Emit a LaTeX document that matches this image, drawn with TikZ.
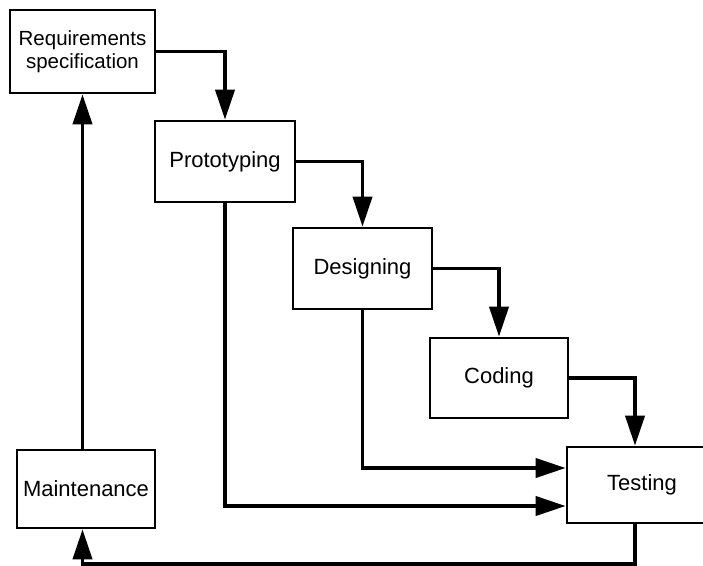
\documentclass[tikz,border=0pt]{standalone}
\usepackage{fontspec}
\setmainfont{Liberation Sans}
\usetikzlibrary{arrows.meta,calc}
\begin{document}
\begin{tikzpicture}[x=1pt,y=-1pt,
  box/.style={draw=black,line width=2.6pt,fill=white,inner sep=0pt,align=center,
    font=\fontsize{22}{23}\selectfont},
  conn/.style={draw=black,line width=3.8pt,-{Triangle[length=30pt,width=19pt]}}]
\useasboundingbox (0,0) rectangle (703,565);
\fill[white] (0,0) rectangle (703,565);
\node[box,minimum width=145pt,minimum height=83pt,font=\fontsize{20.5}{23}\selectfont] (req) at (82.5,51.5) {Requirements\\specification};
\node[box,minimum width=140pt,minimum height=81pt] (proto) at (225,161.5) {Prototyping};
\node[box,minimum width=139pt,minimum height=81pt] (design) at (362.5,268.5) {Designing};
\node[box,minimum width=138pt,minimum height=80pt] (coding) at (499,378) {Coding};
\node[box,minimum width=150pt,minimum height=76pt] (testing) at (642,485) {Testing};
\node[box,minimum width=138pt,minimum height=78pt] (maint) at (86,489) {Maintenance};
\draw[conn] (req.east) -| (proto.north);
\draw[conn] (proto.east) -| (design.north);
\draw[conn] (design.east) -| (coding.north);
\draw[conn] (coding.east) -| ([xshift=-7pt]testing.north);
\draw[conn] (design.south) |- ([yshift=17pt]testing.west);
\draw[conn] (proto.south) |- ([yshift=-21pt]testing.west);
\draw[conn] ([xshift=-7pt]testing.south) -- ++(0,40) -| (req.south |- maint.south);
\draw[conn] (req.south |- maint.north) -- (req.south);
\end{tikzpicture}
\end{document}
